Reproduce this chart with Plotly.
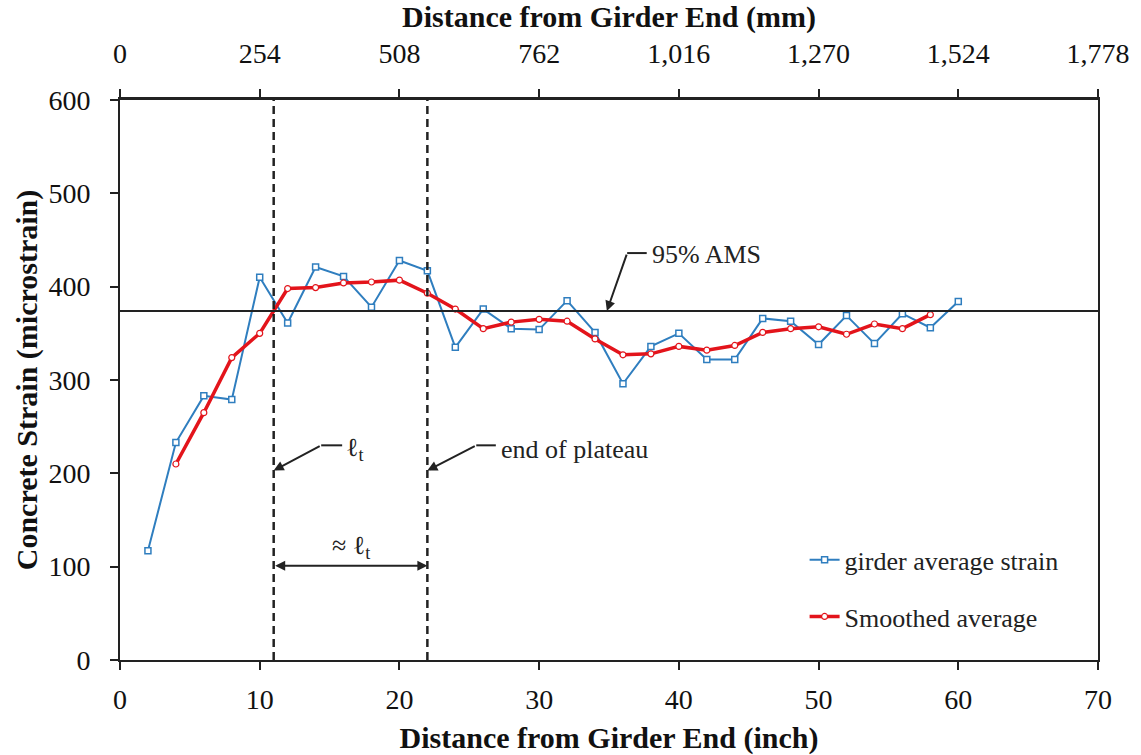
import plotly.graph_objects as go

# Girder average strain, sampled every 2 inches from the girder end
dist_in = [2, 4, 6, 8, 10, 12, 14, 16, 18, 20, 22, 24, 26, 28, 30,
           32, 34, 36, 38, 40, 42, 44, 46, 48, 50, 52, 54, 56, 58, 60]
girder_avg = [117, 233, 283, 279, 410, 361, 421, 411, 378, 428, 417, 335, 376, 355, 354,
              385, 351, 296, 336, 350, 322, 322, 366, 363, 338, 369, 339, 371, 356, 384]

# Smoothed average (3-point window, so the ends are dropped)
smooth_in = [4, 6, 8, 10, 12, 14, 16, 18, 20, 22, 24, 26, 28, 30,
             32, 34, 36, 38, 40, 42, 44, 46, 48, 50, 52, 54, 56, 58]
smooth_avg = [210, 265, 324, 350, 398, 399, 404, 405, 407, 393, 376, 355, 362, 365,
              363, 344, 327, 328, 336, 332, 337, 351, 355, 357, 349, 360, 355, 370]

ams_95 = 374          # 95% of average maximum strain
lt_in = 11            # transfer length
plateau_end_in = 22   # end of plateau

mm_ticks = [0, 254, 508, 762, 1016, 1270, 1524, 1778]
mm_labels = ["0", "254", "508", "762", "1,016", "1,270", "1,524", "1,778"]

SERIF = "Liberation Serif"
BLUE = "#2f7ebf"
RED = "#e3141b"
INK = "#222"

fig = go.Figure()

fig.add_trace(go.Scatter(
    x=dist_in, y=girder_avg, mode="lines+markers", name="girder average strain",
    legendgroup="a",
    line=dict(color=BLUE, width=2),
    marker=dict(symbol="square", size=6, color="white", line=dict(color=BLUE, width=1.5)),
))
fig.add_trace(go.Scatter(
    x=smooth_in, y=smooth_avg, mode="lines+markers", name="Smoothed average",
    legendgroup="b",
    line=dict(color=RED, width=3.5),
    marker=dict(symbol="circle", size=6, color="white", line=dict(color=RED, width=1.2)),
))
# carrier for the millimetre axis on top
fig.add_trace(go.Scatter(
    x=[mm_ticks[0], mm_ticks[-1]], y=[0, 0], xaxis="x2", mode="none",
    showlegend=False, hoverinfo="skip",
))

# 95% AMS line
fig.add_shape(type="line", xref="x", yref="y", x0=0, x1=70, y0=ams_95, y1=ams_95,
              line=dict(color=INK, width=2))
# vertical markers for transfer length and end of plateau
for xv in (lt_in, plateau_end_in):
    fig.add_shape(type="line", xref="x", yref="y", x0=xv, x1=xv, y0=0, y1=600,
                  line=dict(color=INK, width=2.5, dash="8px,5px"))

ann_font = dict(family=SERIF, size=26, color=INK)

def elbow_callout(tx, ty, ex, ey, hx, text, text_x, text_y):
    # short horizontal leader plus an arrow to the target point
    fig.add_shape(type="line", xref="x", yref="y", x0=ex, x1=hx, y0=ey, y1=ey,
                  line=dict(color=INK, width=2))
    fig.add_annotation(x=tx, y=ty, ax=ex, ay=ey, xref="x", yref="y", axref="x", ayref="y",
                       text="", showarrow=True, arrowhead=2, arrowsize=1, arrowwidth=2,
                       arrowcolor=INK, standoff=0)
    fig.add_annotation(x=text_x, y=text_y, xref="x", yref="y", text=text, showarrow=False,
                       xanchor="left", yanchor="middle", font=ann_font)

elbow_callout(lt_in, 203, 14.4, 230, 15.9, "ℓ<sub>t</sub>", 16.0, 226)
elbow_callout(plateau_end_in, 203, 25.5, 230, 26.9, "end of plateau", 27.1, 226)
elbow_callout(34.85, ams_95, 36.3, 436, 37.7, "95% AMS", 37.9, 434)

# double arrow spanning the plateau
fig.add_annotation(x=plateau_end_in, y=101, ax=lt_in, ay=101, xref="x", yref="y",
                   axref="x", ayref="y", text="", showarrow=True, arrowhead=2,
                   arrowside="end+start", arrowsize=1, arrowwidth=2, arrowcolor=INK,
                   standoff=0, startstandoff=0)
fig.add_annotation(x=(lt_in + plateau_end_in) / 2, y=121, xref="x", yref="y",
                   text="≈ ℓ<sub>t</sub>", showarrow=False, font=ann_font)

axis_title_font = dict(family=SERIF, size=30, color="#111", weight="bold")
tick_font = dict(family=SERIF, size=28, color="#111")

fig.update_layout(
    width=1141, height=755,
    margin=dict(l=120, r=43, t=100, b=95),
    paper_bgcolor="white", plot_bgcolor="white",
    xaxis=dict(
        range=[0, 70], dtick=10, tick0=0, showgrid=False, zeroline=False, automargin=False,
        showline=True, linecolor=INK, linewidth=2,
        ticks="outside", ticklen=8, tickwidth=1.5, tickcolor=INK,
        tickfont=tick_font, ticklabelstandoff=5,
        title=dict(text="Distance from Girder End (inch)", font=axis_title_font, standoff=16),
    ),
    xaxis2=dict(
        overlaying="x", side="top", range=[0, 1778], showgrid=False, zeroline=False,
        automargin=False,
        tickmode="array", tickvals=mm_ticks, ticktext=mm_labels,
        showline=True, linecolor=INK, linewidth=3,
        ticks="outside", ticklen=8, tickwidth=1.5, tickcolor=INK,
        tickfont=dict(family=SERIF, size=28, color="#111"), ticklabelstandoff=15,
        title=dict(text="Distance from Girder End (mm)", font=axis_title_font, standoff=4),
    ),
    yaxis=dict(
        range=[0, 600], dtick=100, showgrid=False, zeroline=False, automargin=False,
        showline=True, linecolor=INK, linewidth=2, mirror=True,
        ticks="outside", ticklen=8, tickwidth=1.5, tickcolor=INK,
        tickfont=tick_font, ticklabelstandoff=14,
        title=dict(text="Concrete Strain (microstrain)", font=axis_title_font, standoff=2),
    ),
    legend=dict(
        x=0.70, y=0.221, xanchor="left", yanchor="top",
        bgcolor="rgba(255,255,255,0)", font=dict(family=SERIF, size=26, color=INK),
        tracegroupgap=20, traceorder="grouped",
    ),
    showlegend=True,
)

fig.write_html("out.html")
